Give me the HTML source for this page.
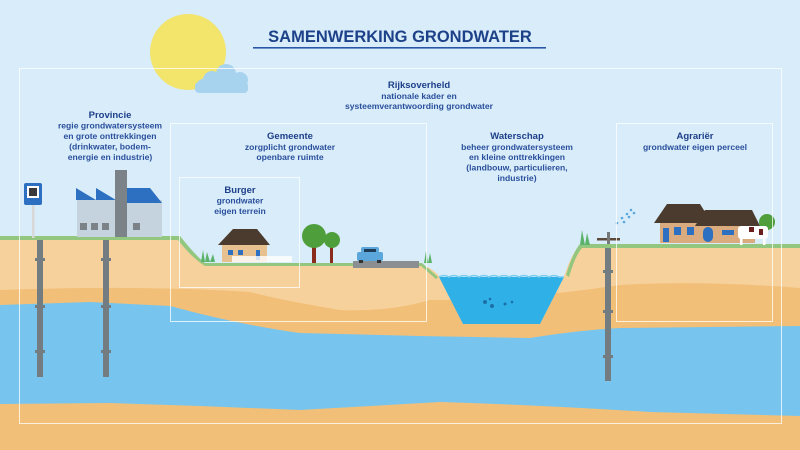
<!DOCTYPE html>
<html><head><meta charset="utf-8"><style>
html,body{margin:0;padding:0;width:800px;height:450px;overflow:hidden;background:#d8ecf9}
svg{display:block}
text{font-family:"Liberation Sans",sans-serif;fill:#1d3f8a;text-anchor:middle}
.h{font-weight:bold;font-size:9.5px}
.t{font-size:8.6px;font-weight:bold;fill:#2a4f9c}
</style></head><body>
<svg width="800" height="450" viewBox="0 0 800 450" xmlns="http://www.w3.org/2000/svg">
<rect width="800" height="450" fill="#d8ecf9"/>
<circle cx="188" cy="52" r="38" fill="#f3e46c"/>
<g fill="#a8d3ef"><rect x="195" y="82" width="53" height="11" rx="4"/><circle cx="212" cy="80" r="9"/><circle cx="226" cy="74" r="10"/><circle cx="240" cy="80" r="8"/><circle cx="203" cy="85" r="6"/></g>
<text x="400" y="42" style="font-size:16.5px;font-weight:bold;fill:#1d4189">SAMENWERKING GRONDWATER</text>
<rect x="253" y="47" width="293" height="1.6" fill="#2a56a8"/>
<!-- ground: bottom sand following profile -->
<path d="M0 238 L180 238 Q195 260 205 265 L422 265 Q432 268 440 277 L463 324 L540 324 L564 277 Q572 252 580 246 L800 246 L800 450 L0 450 Z" fill="#f2bf78"/>
<!-- aquifer -->
<path d="M0 305 L90 302 L170 306 Q240 325 300 333 L420 336 L530 338 Q580 330 620 328 L800 326 L800 416 L650 412 Q540 405 440 402 L300 410 L200 406 L110 403 L0 404 Z" fill="#77c5ee"/>
<!-- light sand -->
<path d="M0 238 L180 238 Q195 260 205 265 L422 265 Q432 268 440 277 L463 324 L540 324 L564 277 Q572 252 580 246 L800 246 L800 288 Q700 280 620 285 Q520 300 430 300 Q390 312 340 310 Q280 300 250 292 Q150 285 0 290 Z" fill="#f7d19c"/>
<!-- pond -->
<path d="M439 277 L564 277 L540 324 L463 324 Z" fill="#2fb1e8"/>
<path d="M439 277 Q444 274 449 277 Q454 274 459 277 Q464 274 469 277 Q474 274 479 277 Q484 274 489 277 Q494 274 499 277 Q504 274 509 277 Q514 274 519 277 Q524 274 529 277 Q534 274 539 277 Q544 274 549 277 Q554 274 559 277 L564 277" fill="none" stroke="#7ccdf1" stroke-width="1.5"/>
<g fill="#1d6fa8"><circle cx="485" cy="302" r="2"/><circle cx="492" cy="306" r="2"/><circle cx="490" cy="299" r="1.3"/><circle cx="505" cy="304" r="1.5"/><circle cx="512" cy="302" r="1.3"/></g>
<!-- grass -->
<path d="M0 236 L180 236 Q195 255 205 263 L422 263 L438 277 L436 279 L421 266 L205 266 Q192 258 178 240 L0 240 Z" fill="#93c67f"/>
<path d="M566 275 Q573 252 580 244 L800 244 L800 248 L582 248 Q575 256 569 277 Z" fill="#93c67f"/>
<!-- road -->
<rect x="353" y="261" width="66" height="7" fill="#8c8f92"/>
<!-- pipes -->
<g fill="#737c80">
<rect x="37" y="240" width="6" height="137"/><rect x="103" y="240" width="6" height="137"/><rect x="605" y="248" width="6" height="133"/>
<rect x="35" y="258" width="10" height="3"/><rect x="101" y="258" width="10" height="3"/><rect x="35" y="305" width="10" height="3"/><rect x="101" y="305" width="10" height="3"/><rect x="35" y="350" width="10" height="3"/><rect x="101" y="350" width="10" height="3"/>
<rect x="603" y="270" width="10" height="3"/><rect x="603" y="310" width="10" height="3"/><rect x="603" y="355" width="10" height="3"/>
</g>
<!-- factory -->
<rect x="77" y="200" width="85" height="37" fill="#c4d3dd"/>
<path d="M76 200 L76 188 L96 200 L96 188 L116 200 Z" fill="#2d6fc0"/>
<path d="M127 188 L150 188 L162 203 L127 203 Z" fill="#2d6fc0"/>
<rect x="115" y="170" width="12" height="67" fill="#7c8388"/>
<g fill="#7c8388"><rect x="80" y="223" width="7" height="7"/><rect x="91" y="223" width="7" height="7"/><rect x="102" y="223" width="7" height="7"/><rect x="133" y="223" width="7" height="7"/></g>
<!-- sign -->
<rect x="32" y="205" width="2.5" height="33" fill="#d8d8d8"/>
<rect x="24" y="183" width="18" height="22" rx="2" fill="#2d6fc0"/>
<rect x="27" y="186" width="12" height="12" fill="#fff"/><rect x="29" y="188" width="8" height="8" fill="#3a3a3a"/>
<!-- burger house -->
<rect x="222" y="242" width="45" height="20" fill="#e7c090"/>
<path d="M218 245 L233 229 L257 229 L270 245 Z" fill="#4b3a2e"/>
<g fill="#2d6fc0"><rect x="228" y="250" width="5" height="5"/><rect x="238" y="250" width="5" height="5"/><rect x="256" y="250" width="4" height="10"/></g>
<rect x="232" y="256" width="60" height="6" fill="#fff" opacity=".8"/>
<path d="M201 262 L203 250 L205 262 L207 252 L210 262 L213 254 L215 262 Z" fill="#5bb36b"/>
<!-- trees -->
<rect x="312" y="242" width="4" height="21" fill="#8a2b1c"/><rect x="330" y="245" width="3" height="18" fill="#8a2b1c"/>
<circle cx="314" cy="236" r="12" fill="#4f9e3c"/><circle cx="332" cy="240" r="8" fill="#4f9e3c"/>
<!-- car -->
<rect x="357" y="252" width="26" height="9" rx="2" fill="#5ba7dc"/><rect x="361" y="247" width="18" height="6" rx="2" fill="#5ba7dc"/><rect x="364" y="249" width="12" height="3" fill="#203b55"/><rect x="359" y="260" width="4" height="3" fill="#333"/><rect x="377" y="260" width="4" height="3" fill="#333"/>
<path d="M424 263 L426 251 L428 263 L430 253 L432 263 Z" fill="#5bb36b"/>
<path d="M580 245 L582 230 L585 245 L587 233 L590 245 Z" fill="#5bb36b"/>
<!-- tap & spray -->
<rect x="597" y="238" width="23" height="2.5" fill="#5c4a3a"/><rect x="607" y="232" width="3" height="12" fill="#777"/>
<g fill="#5ba7dc"><circle cx="617" cy="223" r="1.3"/><circle cx="622" cy="218" r="1.3"/><circle cx="627" cy="214" r="1.3"/><circle cx="631" cy="210" r="1.3"/><circle cx="624" cy="222" r="1.3"/><circle cx="629" cy="217" r="1.3"/><circle cx="634" cy="213" r="1.3"/></g>
<!-- farm -->
<rect x="660" y="218" width="95" height="25" fill="#d9ab7f"/>
<path d="M654 223 L667 204 L700 204 L712 223 Z" fill="#4b3a2e"/>
<path d="M695 226 L705 210 L752 210 L760 226 Z" fill="#4b3a2e"/>
<g fill="#2d6fc0"><rect x="663" y="228" width="6" height="14"/><rect x="674" y="227" width="7" height="8"/><rect x="687" y="227" width="7" height="8"/><rect x="703" y="227" width="10" height="15" rx="5"/><rect x="722" y="230" width="12" height="5"/></g>
<circle cx="767" cy="222" r="8" fill="#4f9e3c"/>
<rect x="738" y="226" width="30" height="13" rx="3" fill="#fff"/><rect x="740" y="238" width="2.5" height="7" fill="#fff"/><rect x="763" y="238" width="2.5" height="7" fill="#fff"/>
<g fill="#6b1e1e"><rect x="749" y="227" width="5" height="5"/><rect x="759" y="229" width="4" height="6"/></g>
<!-- frames -->
<g fill="none" stroke="#fff" stroke-opacity=".75" stroke-width="1">
<rect x="19.5" y="68.5" width="762" height="355"/>
<rect x="170.5" y="123.5" width="256" height="198"/>
<rect x="179.5" y="177.5" width="120" height="110"/>
<rect x="616.5" y="123.5" width="156" height="198"/>
</g>
<!-- labels -->
<text class="h" x="419" y="88">Rijksoverheld</text>
<text class="t" x="419" y="99">nationale kader en</text>
<text class="t" x="419" y="109">systeemverantwoording grondwater</text>
<text class="h" x="110" y="118">Provincie</text>
<text class="t" x="110" y="128.5">regie grondwatersysteem</text>
<text class="t" x="110" y="139">en grote onttrekkingen</text>
<text class="t" x="110" y="149.5">(drinkwater, bodem-</text>
<text class="t" x="110" y="160">energie en industrie)</text>
<text class="h" x="290" y="139">Gemeente</text>
<text class="t" x="290" y="150">zorgplicht grondwater</text>
<text class="t" x="290" y="160">openbare ruimte</text>
<text class="h" x="240" y="193">Burger</text>
<text class="t" x="240" y="203.5">grondwater</text>
<text class="t" x="240" y="214">eigen terrein</text>
<text class="h" x="517" y="139">Waterschap</text>
<text class="t" x="517" y="150">beheer grondwatersysteem</text>
<text class="t" x="517" y="160">en kleine onttrekkingen</text>
<text class="t" x="517" y="170.5">(landbouw, particulieren,</text>
<text class="t" x="517" y="181">industrie)</text>
<text class="h" x="695" y="139">Agrariër</text>
<text class="t" x="695" y="150">grondwater eigen perceel</text>
</svg>
</body></html>
